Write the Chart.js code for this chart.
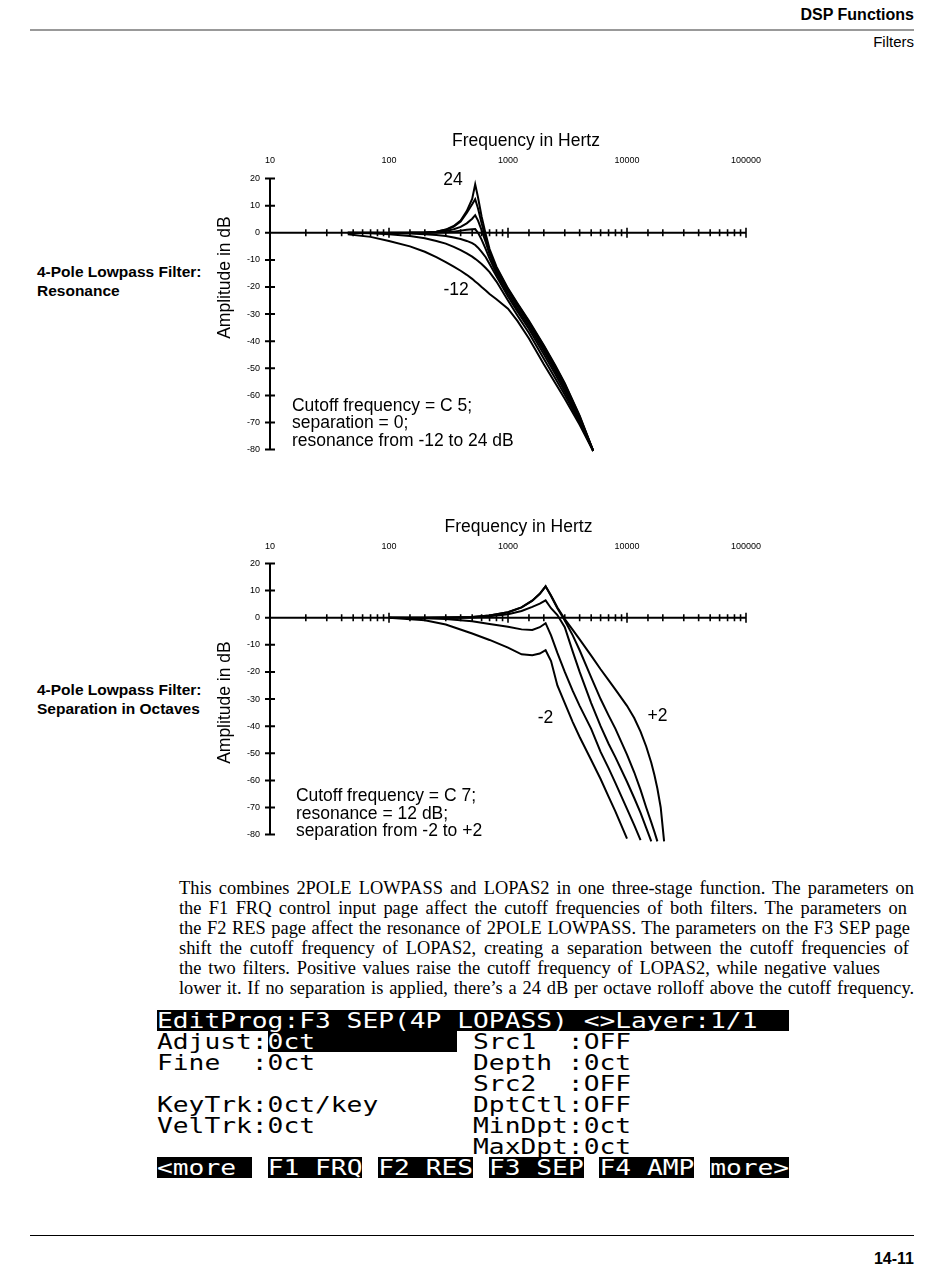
<!DOCTYPE html>
<html>
<head>
<meta charset="utf-8">
<script src="https://cdn.jsdelivr.net/npm/chart.js@4.4.1/dist/chart.umd.min.js"></script>
<style>
  body { margin: 0; background: #fff; }
  #page { position: relative; width: 950px; height: 1267px; overflow: hidden; font-family: "Liberation Sans", Arial, sans-serif; color: #000; }
  .abs { position: absolute; }
  .side { position: absolute; left: 37px; font-weight: bold; font-size: 15.5px; line-height: 19px; }
  .para { position: absolute; left: 179px; font-family: "Liberation Serif", "Times New Roman", serif; font-size: 18.4px; line-height: 20px; white-space: nowrap; text-align: justify; text-align-last: justify; }
  #lcd { position: absolute; left: 157px; top: 1010px; width: 632px; height: 170px; }
  #lcd .blk { position: absolute; background: #000; height: 21px; }
  #lcd .row { position: absolute; left: 0; height: 21px; line-height: 21px; font-family: "DejaVu Sans Mono", monospace; font-size: 22px; white-space: pre; transform: scaleX(1.193); transform-origin: 0 0; color: #000; }
  #lcd .w { color: #fff; }
</style>
</head>
<body>
<div id="page">
  <div class="abs" style="right:36px;top:6px;font-weight:bold;font-size:16px;line-height:18px;">DSP Functions</div>
  <div class="abs" style="left:30px;top:29px;width:884px;height:2px;background:#999;"></div>
  <div class="abs" style="right:36px;top:33px;font-size:15px;line-height:18px;">Filters</div>

  <div class="side" style="top:262px;">4-Pole Lowpass Filter:<br>Resonance</div>
  <div class="side" style="top:680px;">4-Pole Lowpass Filter:<br>Separation in Octaves</div>

  <canvas id="chartRes" width="600" height="340" style="position:absolute;left:190px;top:125px;"></canvas>
  <canvas id="chartSep" width="600" height="340" style="position:absolute;left:190px;top:510px;"></canvas>

  <div class="para" style="top:878px;width:735px;">This combines 2POLE LOWPASS and LOPAS2 in one three-stage function. The parameters on</div>
  <div class="para" style="top:898px;width:728px;">the F1 FRQ control input page affect the cutoff frequencies of both filters. The parameters on</div>
  <div class="para" style="top:918px;width:731px;">the F2 RES page affect the resonance of 2POLE LOWPASS. The parameters on the F3 SEP page</div>
  <div class="para" style="top:938px;width:730px;">shift the cutoff frequency of LOPAS2, creating a separation between the cutoff frequencies of</div>
  <div class="para" style="top:958px;width:701px;">the two filters. Positive values raise the cutoff frequency of LOPAS2, while negative values</div>
  <div class="para" style="top:978px;width:735px;">lower it. If no separation is applied, there’s a 24 dB per octave rolloff above the cutoff frequency.</div>

  <div id="lcd">
    <div class="blk" style="left:0;top:0;width:632px;"></div>
    <div class="blk" style="left:110.6px;top:21px;width:189.6px;"></div>
    <div class="blk" style="left:0;top:147px;width:94.8px;"></div>
    <div class="blk" style="left:110.6px;top:147px;width:94.8px;"></div>
    <div class="blk" style="left:221.2px;top:147px;width:94.8px;"></div>
    <div class="blk" style="left:331.8px;top:147px;width:94.8px;"></div>
    <div class="blk" style="left:442.4px;top:147px;width:94.8px;"></div>
    <div class="blk" style="left:553px;top:147px;width:79px;"></div>
    <div class="row" style="top:0;"><span class="w">EditProg:F3 SEP(4P LOPASS) &lt;&gt;Layer:1/1</span></div>
    <div class="row" style="top:21px;">Adjust:<span class="w">0ct</span>          Src1  :OFF</div>
    <div class="row" style="top:42px;">Fine  :0ct          Depth :0ct</div>
    <div class="row" style="top:63px;">                    Src2  :OFF</div>
    <div class="row" style="top:84px;">KeyTrk:0ct/key      DptCtl:OFF</div>
    <div class="row" style="top:105px;">VelTrk:0ct          MinDpt:0ct</div>
    <div class="row" style="top:126px;">                    MaxDpt:0ct</div>
    <div class="row" style="top:147px;"><span class="w">&lt;more </span> <span class="w">F1 FRQ</span> <span class="w">F2 RES</span> <span class="w">F3 SEP</span> <span class="w">F4 AMP</span> <span class="w">more&gt;</span></div>
  </div>

  <div class="abs" style="left:30px;top:1235px;width:884px;height:1px;background:#000;"></div>
  <div class="abs" style="right:36px;top:1250px;font-weight:bold;font-size:16px;line-height:18px;">14-11</div>
</div>

<script>
// axis labels shared by both plots
const xTickLabels = [10, 100, 1000, 10000, 100000];
const yTickLabels = [20, 10, 0, -10, -20, -30, -40, -50, -60, -70, -80];

// plot 1: resonance sweep, cutoff C 5 (dB values)
const freqRes = [45, 70, 100, 150, 200, 250, 300, 350, 400, 450, 500, 530, 560, 600, 650, 700, 800, 1000, 1200, 1500, 2000, 2500, 3000, 4000, 5200];
const resPlus24 = [null, null, null, 0, 0, 0.4, 1.2, 2.5, 4.5, 8, 12.5, 17.9, 13, 6, -0.5, -6, -12.5, -20.5, -26, -32.5, -41.5, -49, -55.5, -67.5, -80.5];
const resPlus18 = [null, null, null, 0, 0, 0.4, 1.1, 2.3, 4.2, 7.3, 10.5, 12.4, 9, 3.5, -2, -7, -13, -20.8, -26.3, -32.8, -41.8, -49.3, -55.8, -67.7, -80.5];
const resPlus12 = [null, null, 0, 0, 0.1, 0.3, 0.7, 1.3, 2.2, 3.5, 5.2, 6.5, 4.5, 1, -3.5, -8, -14, -21.5, -27, -33.5, -42.7, -50.2, -56.7, -68.2, -80.5];
const resPlus6 = [0, 0, 0, 0, 0, 0.1, 0.2, 0.4, 0.8, 1.1, 1.3, 1.35, 0, -2.5, -6, -9.5, -15, -22.5, -28, -34.5, -43.6, -51.1, -57.6, -68.8, -80.5];
const resZero = [0, 0, -0.1, -0.3, -0.5, -0.8, -1.2, -1.7, -2.3, -3, -3.8, -4.5, -5.5, -7, -9, -11.5, -16, -23.5, -29, -35.5, -44.8, -52.2, -58.6, -69.3, -80.5];
const resMinus6 = [0, -0.2, -0.5, -1.2, -2, -3, -4, -5.2, -6.4, -7.6, -8.8, -9.6, -10.4, -11.5, -13, -14.5, -18, -25, -30.5, -37, -46.5, -53.8, -59.8, -70, -80.5];
const resMinus12 = [-0.5, -1.5, -3, -5, -7, -9, -10.8, -12.5, -14, -15.5, -17, -18, -18.8, -20, -21.3, -22.6, -24.5, -28, -32.5, -39, -48.5, -55.5, -61.2, -70.8, -80.5];

// plot 2: separation sweep, cutoff C 7, resonance 12 dB
const freqSep = [100, 200, 300, 500, 700, 1000, 1300, 1600, 1850, 2070, 2300, 2600, 3000, 3500, 4000, 5000, 6000, 7000, 8000, 10000, 11500, 13000, 14500, 16000, 17000, 18000, 19200, 20500];
const sepMinus2 = [0, -0.9, -2.5, -5.8, -8.2, -11, -13.5, -13.8, -13.2, -12, -16, -25, -31.5, -38.5, -44, -52.5, -59.5, -66, -71.5, -81.5, null, null, null, null, null, null, null, null];
const sepMinus1 = [0, -0.2, -0.5, -1.3, -2.3, -3.3, -4.3, -4.5, -3.5, -2, -6.5, -13, -20, -27, -32.5, -41, -49.5, -55.5, -61, -70.5, -76.5, -82, null, null, null, null, null, null];
const sepZero = [0, 0, 0, 0.1, 0.5, 1.3, 2.5, 4, 5.2, 6.4, 3.5, 1, -3.5, -12.5, -20, -31.5, -40, -46.5, -51.5, -60.5, -66.5, -72, -77.5, -82.5, null, null, null, null];
const sepPlus1 = [0, 0, 0.1, 0.3, 0.8, 2, 3.8, 6.3, 8.8, 11.6, 8, 3.5, -1, -6.5, -12, -22, -30, -36, -41, -50.5, -57, -63.5, -70, -75.5, -79, -82.5, null, null];
const sepPlus2 = [0, 0, 0.1, 0.3, 0.8, 2, 3.8, 6.3, 8.8, 11.6, 8.2, 3.8, -0.5, -4.5, -8, -14, -19, -23, -26.5, -32.5, -37, -42, -47.5, -53.5, -58, -63, -70, -82.5];

const FONT = '"Liberation Sans", Arial, Helvetica, sans-serif';
Chart.defaults.font.family = FONT;
Chart.defaults.color = '#000';

// axes that cross at 0 dB, ticks on both sides of the lines
const crossAxes = {
  id: 'crossAxes',
  beforeDatasetsDraw(chart) {
    const { ctx, scales: { x, y } } = chart;
    const x0 = x.getPixelForValue(x.min);
    const x1 = x.getPixelForValue(x.max);
    const y0 = y.getPixelForValue(0);
    ctx.save();
    ctx.strokeStyle = '#000';
    ctx.lineWidth = 2;
    ctx.beginPath();
    ctx.moveTo(x0, y.getPixelForValue(y.max));
    ctx.lineTo(x0, y.getPixelForValue(y.min));
    ctx.moveTo(x0, y0);
    ctx.lineTo(x1, y0);
    y.ticks.forEach(t => {
      const p = y.getPixelForValue(t.value);
      ctx.moveTo(x0 - 5, p);
      ctx.lineTo(x0 + 5, p);
    });
    ctx.stroke();

    let minor = x.$minor || [];
    if (minor.length < 20) {
      minor = [];
      xTickLabels.forEach(d => { for (let k = 1; k < 10; k++) if (d * k <= x.max) minor.push(d * k); });
    }
    ctx.lineWidth = 1.6;
    ctx.beginPath();
    minor.forEach(v => {
      if (v <= x.min) return;
      const p = x.getPixelForValue(v);
      const h = xTickLabels.includes(v) ? 5 : 3.5;
      ctx.moveTo(p, y0 - h);
      ctx.lineTo(p, y0 + h);
    });
    ctx.stroke();
    ctx.restore();
  }
};

// titles and the notes written inside the plot
const plotNotes = {
  id: 'plotNotes',
  afterDatasetsDraw(chart, args, opts) {
    const { ctx, chartArea, scales: { x, y } } = chart;
    ctx.save();
    ctx.fillStyle = '#000';
    ctx.font = '17.5px ' + FONT;
    ctx.textBaseline = 'middle';
    ctx.textAlign = 'center';
    ctx.fillText(opts.title, x.getPixelForValue(opts.titleF), chartArea.top - opts.titleUp);
    opts.items.forEach(n => {
      ctx.textAlign = n.align || 'center';
      n.lines.forEach((s, i) => {
        ctx.fillText(s, x.getPixelForValue(n.f), y.getPixelForValue(n.db) + i * 17.3);
      });
    });
    ctx.translate(chartArea.left - 45, y.getPixelForValue(opts.yTitleDb));
    ctx.rotate(-Math.PI / 2);
    ctx.textAlign = 'center';
    ctx.fillText(opts.yTitle, 0, 0);
    ctx.restore();
  }
};

function makeChart(id, freq, curves, cfg) {
  return new Chart(document.getElementById(id), {
    type: 'line',
    data: {
      datasets: curves.map(c => ({
        label: c.label,
        data: freq.map((f, i) => ({ x: f, y: c.values[i] })),
        borderColor: '#000',
        borderWidth: 2,
        pointRadius: 0,
        tension: 0,
        fill: false,
        spanGaps: false,
        clip: false,
      })),
    },
    options: {
      responsive: false,
      animation: false,
      devicePixelRatio: 1,
      layout: { padding: { left: 0, top: 0, right: 44, bottom: cfg.padBottom } },
      plugins: { legend: { display: false }, tooltip: { enabled: false }, plotNotes: cfg.notes },
      scales: {
        x: {
          type: 'logarithmic',
          position: 'top',
          min: 10,
          max: 100000,
          grid: { display: false, drawTicks: false },
          border: { display: false },
          ticks: { autoSkip: false, maxRotation: 0, minRotation: 0, padding: cfg.xLabelPad, font: { size: 9 }, callback: v => String(v) },
          afterBuildTicks: s => {
            s.$minor = s.ticks.map(t => t.value);
            s.ticks = xTickLabels.map(v => ({ value: v }));
          },
          afterFit: s => { s.height = cfg.xAxisH; },
        },
        y: {
          min: -80,
          max: 20,
          grid: { display: false, drawTicks: false },
          border: { display: false },
          ticks: { padding: 10, font: { size: 9 }, callback: v => String(v) },
          afterBuildTicks: s => { s.ticks = yTickLabels.map(v => ({ value: v })); },
          afterFit: s => { s.width = 80; },
        },
      },
    },
    plugins: [crossAxes, plotNotes],
  });
}

makeChart('chartRes', freqRes, [
  { label: '24', values: resPlus24 },
  { label: '18', values: resPlus18 },
  { label: '12', values: resPlus12 },
  { label: '6', values: resPlus6 },
  { label: '0', values: resZero },
  { label: '-6', values: resMinus6 },
  { label: '-12', values: resMinus12 },
], {
  padBottom: 14.4,
  xAxisH: 53.6,
  xLabelPad: 12.5,
  notes: {
    title: 'Frequency in Hertz', titleF: 1416, titleUp: 37.6,
    yTitle: 'Amplitude in dB', yTitleDb: -16.5,
    items: [
      { lines: ['24'], f: 345, db: 19.5 },
      { lines: ['-12'], f: 366, db: -21 },
      { lines: ['Cutoff frequency = C 5;', 'separation = 0;', 'resonance from -12 to 24 dB'], f: 15.3, db: -64, align: 'left' },
    ],
  },
});

makeChart('chartSep', freqSep, [
  { label: '-2', values: sepMinus2 },
  { label: '-1', values: sepMinus1 },
  { label: '0', values: sepZero },
  { label: '+1', values: sepPlus1 },
  { label: '+2', values: sepPlus2 },
], {
  padBottom: 15,
  xAxisH: 53.5,
  xLabelPad: 11.4,
  notes: {
    title: 'Frequency in Hertz', titleF: 1225, titleUp: 36.5,
    yTitle: 'Amplitude in dB', yTitleDb: -31.3,
    items: [
      { lines: ['-2'], f: 2065, db: -36.9 },
      { lines: ['+2'], f: 18030, db: -36.5 },
      { lines: ['Cutoff frequency = C 7;', 'resonance = 12 dB;', 'separation from -2 to +2'], f: 16.5, db: -66, align: 'left' },
    ],
  },
});
</script>
</body>
</html>
